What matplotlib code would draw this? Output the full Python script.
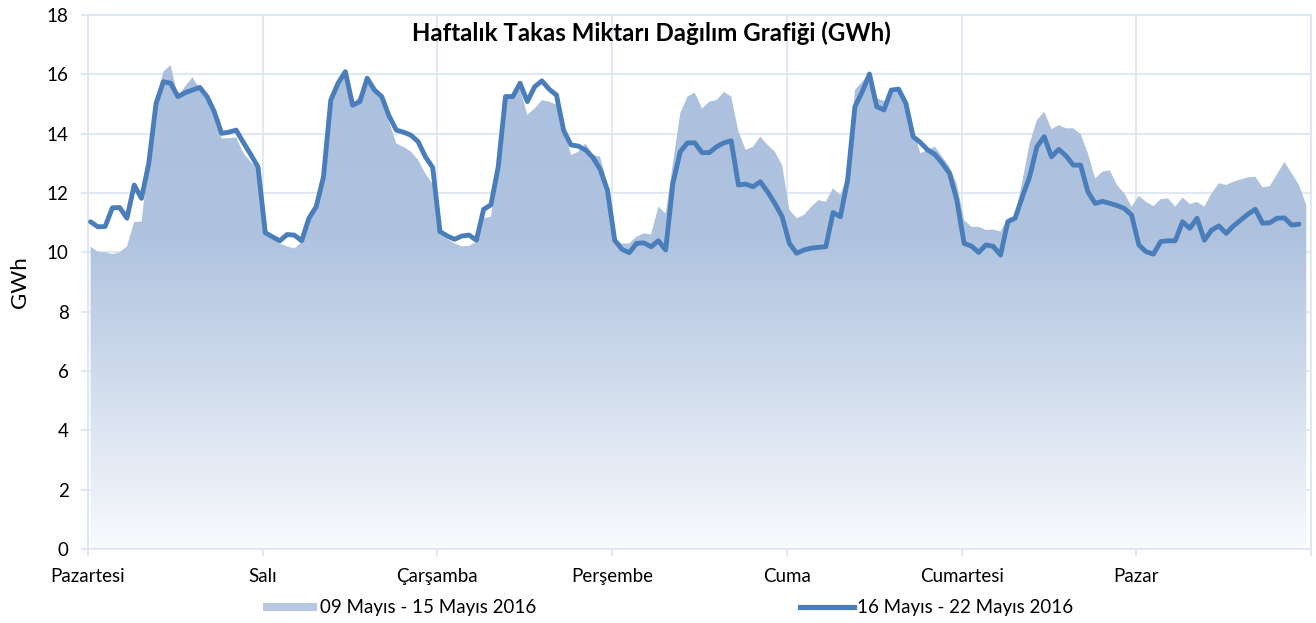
import numpy as np, matplotlib
matplotlib.use("Agg")
import matplotlib.pyplot as plt
from matplotlib.colors import LinearSegmentedColormap
from matplotlib.patches import Patch
from matplotlib.lines import Line2D

days = ["Pazartesi", "Salı", "Çarşamba", "Perşembe", "Cuma", "Cumartesi", "Pazar"]
label_prev = "09 Mayıs - 15 Mayıs 2016"
label_curr = "16 Mayıs - 22 Mayıs 2016"

# hourly GWh, 09-15 May 2016 (area)
prev_week = [
    10.19, 10.02, 10.0, 9.94, 10.0, 10.2, 11.03, 11.03, 13.11, 15.13, 16.09, 16.31, 15.25, 15.6, 15.9, 15.5, 15.1, 14.57, 13.84, 13.85, 13.87, 13.34, 13.05, 12.8,
    10.6, 10.45, 10.3, 10.2, 10.13, 10.35, 11.1, 11.5, 12.55, 15.3, 15.7, 16.0, 14.96, 15.3, 15.8, 15.6, 15.25, 14.4, 13.67, 13.55, 13.4, 13.11, 12.65, 12.3,
    10.6, 10.45, 10.3, 10.2, 10.22, 10.35, 11.15, 11.2, 12.9, 15.25, 15.2, 15.5, 14.63, 14.85, 15.13, 15.08, 14.97, 14.2, 13.28, 13.39, 13.67, 13.28, 13.22, 12.3,
    10.4, 10.3, 10.3, 10.53, 10.64, 10.6, 11.54, 11.31, 13.0, 14.68, 15.25, 15.38, 14.85, 15.08, 15.13, 15.41, 15.25, 14.07, 13.45, 13.56, 13.9, 13.62, 13.39, 12.94,
    11.43, 11.15, 11.26, 11.54, 11.76, 11.7, 12.16, 11.93, 12.6, 15.47, 15.75, 16.0, 15.2, 15.1, 15.4, 15.4, 15.05, 14.12, 13.34, 13.45, 13.56, 13.22, 12.88, 12.3,
    11.09, 10.86, 10.86, 10.75, 10.77, 10.7, 11.15, 11.2, 12.4, 13.67, 14.46, 14.74, 14.15, 14.29, 14.18, 14.18, 13.99, 13.34, 12.49, 12.72, 12.77, 12.27, 11.99, 11.54,
    11.9, 11.7, 11.56, 11.79, 11.82, 11.54, 11.85, 11.63, 11.7, 11.54, 11.99, 12.33, 12.27, 12.38, 12.46, 12.53, 12.55, 12.19, 12.23, 12.64, 13.05, 12.66, 12.27, 11.6,
]

# hourly GWh, 16-22 May 2016 (line, last hour missing)
curr_week = [
    11.03, 10.86, 10.87, 11.5, 11.51, 11.15, 12.27, 11.82, 13.0, 15.02, 15.75, 15.7, 15.25, 15.38, 15.47, 15.56, 15.25, 14.74, 14.01, 14.05, 14.12, 13.7, 13.3, 12.88,
    10.66, 10.52, 10.39, 10.6, 10.58, 10.39, 11.15, 11.54, 12.55, 15.13, 15.7, 16.09, 14.96, 15.08, 15.87, 15.47, 15.25, 14.6, 14.12, 14.05, 13.95, 13.73, 13.22, 12.86,
    10.7, 10.55, 10.44, 10.55, 10.58, 10.41, 11.45, 11.6, 12.88, 15.25, 15.25, 15.7, 15.08, 15.58, 15.78, 15.5, 15.3, 14.1, 13.62, 13.58, 13.45, 13.2, 12.8, 12.1,
    10.41, 10.1, 9.99, 10.3, 10.32, 10.19, 10.39, 10.08, 12.33, 13.39, 13.69, 13.69, 13.36, 13.36, 13.56, 13.69, 13.76, 12.27, 12.3, 12.21, 12.38, 12.04, 11.65, 11.2,
    10.3, 9.97, 10.08, 10.14, 10.17, 10.19, 11.34, 11.2, 12.44, 14.91, 15.41, 16.01, 14.91, 14.8, 15.47, 15.5, 15.02, 13.9, 13.7, 13.45, 13.3, 13.0, 12.66, 11.76,
    10.3, 10.21, 10.0, 10.25, 10.2, 9.91, 11.03, 11.15, 11.87, 12.55, 13.56, 13.9, 13.22, 13.47, 13.25, 12.94, 12.94, 12.04, 11.65, 11.72, 11.65, 11.58, 11.48, 11.26,
    10.25, 10.02, 9.94, 10.36, 10.39, 10.39, 11.03, 10.81, 11.15, 10.41, 10.75, 10.89, 10.64, 10.89, 11.09, 11.29, 11.45, 10.98, 11.0, 11.15, 11.16, 10.92, 10.95,
]

plt.rcParams["font.family"] = ["Lato", "DejaVu Sans"]
grid_c = "#dce6f2"
line_c = "#4a7ebb"

fig = plt.figure(figsize=(13.16, 6.23), dpi=100)
ax = fig.add_axes([88/1316, 1-549/623, (1311-88)/1316, (549-15)/623])

xp = np.arange(len(prev_week))
xc = np.arange(len(curr_week))
x0, x1 = -0.35, 167.65

# gradient area for previous week
poly = ax.fill_between(xp, prev_week, 0, color="none", lw=0)
cmap = LinearSegmentedColormap.from_list("g", [(0, "#f8fafd"), (10.5/18, "#afc3df"), (1, "#abc0dd")])
grad = np.linspace(0, 1, 256).reshape(-1, 1)
im = ax.imshow(grad, extent=[x0, x1, 0, 18], origin="lower", aspect="auto", cmap=cmap, zorder=1)
im.set_clip_path(poly.get_paths()[0], transform=ax.transData)

ax.plot(xc, curr_week, color=line_c, lw=3.5, solid_joinstyle="round", solid_capstyle="round", zorder=3)

ax.set_xlim(x0, x1)
ax.set_ylim(0, 18)
ax.set_yticks(range(0, 19, 2))
ax.set_xticks([24*k - 0.35 for k in range(8)])
ax.set_xticklabels(days + [""])
ax.grid(color=grid_c, lw=1.3, zorder=0)
ax.set_axisbelow(True)
for s in ax.spines.values():
    s.set_color(grid_c); s.set_linewidth(1.3)
ax.tick_params(axis="both", color=grid_c, width=1.3, length=5, labelsize=13.5)
ax.tick_params(axis="x", pad=9)
ax.tick_params(axis="y", pad=9)
ax.set_ylabel("GWh", fontsize=16, labelpad=12)
ax.text(0.461, 0.966, "Haftalık Takas Miktarı Dağılım Grafiği (GWh)", transform=ax.transAxes,
        ha="center", va="center", fontsize=17.3, fontweight="bold")

h1 = Patch(facecolor="#b6c8e2", edgecolor="none")
h2 = Line2D([], [], color=line_c, lw=3.7)
kw = dict(frameon=False, fontsize=13.5, borderpad=0, borderaxespad=0, handletextpad=0.12,
          handlelength=2.9, loc="center left")
fig.legend([h1], [label_prev], bbox_to_anchor=(263/1316, 1-608/623), handleheight=0.3, **kw)
fig.legend([h2], [label_curr], bbox_to_anchor=(800/1316, 1-608/623), **kw)

fig.savefig("out.png", dpi=100, facecolor="white")
